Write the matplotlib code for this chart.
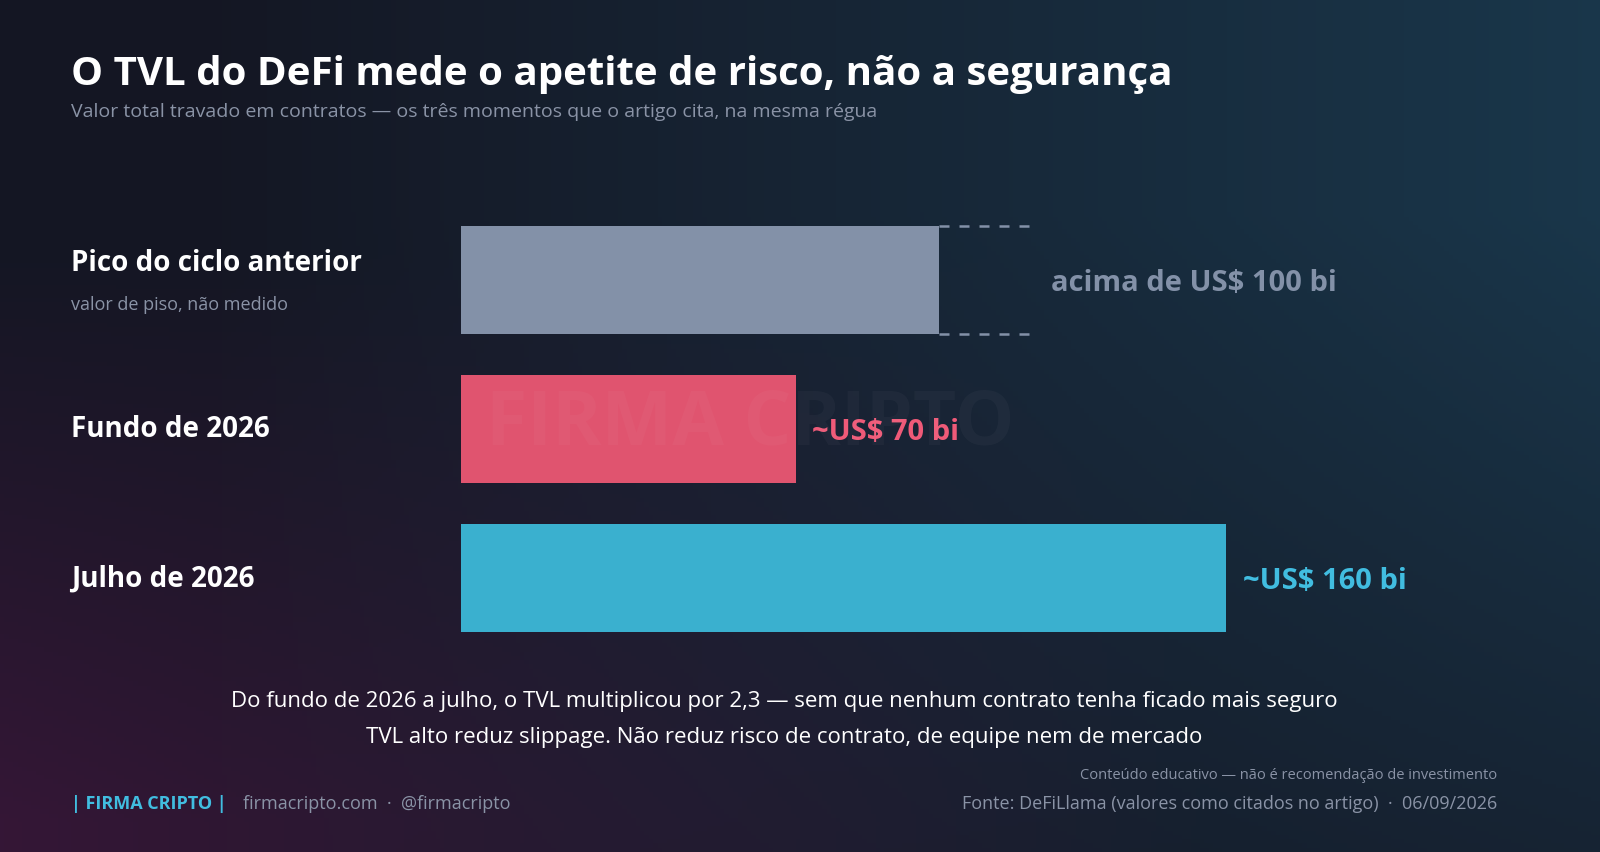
import numpy as np
import matplotlib
matplotlib.use("Agg")
import matplotlib.pyplot as plt

plt.rcParams['font.family'] = ['Open Sans', 'DejaVu Sans']

# data
labels = ["Pico do ciclo anterior", "Fundo de 2026", "Julho de 2026"]
sublabels = ["valor de piso, não medido", "", ""]
values = [100, 70, 160]
value_texts = ["acima de US$ 100 bi", "~US$ 70 bi", "~US$ 160 bi"]
bar_colors = ["#8391a8", "#e0546f", "#3ab0cf"]
text_colors = ["#8391a8", "#ef5a78", "#41bde0"]
floor_extent = 120  # dashed "above" region for the floor value

W, H = 1600, 853
fig = plt.figure(figsize=(W / 100, H / 100), dpi=100)

# background gradient
bg = fig.add_axes([0, 0, 1, 1])
yy, xx = np.mgrid[0:1:200j, 0:1:360j]
base = np.array([0.08, 0.09, 0.14])
teal = np.array([0.10, 0.22, 0.30])
purple = np.array([0.22, 0.09, 0.22])
wt = np.clip(xx * 1.1 - 0.15, 0, 1) * np.clip(1.2 - yy * 0.8, 0, 1)
wp = np.clip((1 - xx) * 1.2 - 0.3, 0, 1) * np.clip(yy * 1.5 - 0.45, 0, 1)
img = base[None, None, :] * (1 - wt[..., None] - wp[..., None]) + teal * wt[..., None] + purple * wp[..., None]
img = np.clip(img, 0, 1)
bg.imshow(img, extent=[0, W, H, 0], aspect="auto")
bg.set_xlim(0, W)
bg.set_ylim(H, 0)
bg.axis("off")

# title
bg.text(71, 74, "O TVL do DeFi mede o apetite de risco, não a segurança", color="white",
        fontsize=29, fontweight="bold", va="center")
bg.text(71, 112, "Valor total travado em contratos — os três momentos que o artigo cita, na mesma régua",
        color="#8a93a6", fontsize=14, va="center")

# bars
x0, x1 = 461, 1226
ytop, ybot = 206.5, 653.5
ax = fig.add_axes([x0 / W, 1 - ybot / H, (x1 - x0) / W, (ybot - ytop) / H])
ax.set_xlim(0, 160)
ax.set_ylim(2.5, -0.5)
ax.axis("off")
ypos = np.arange(len(values))
bh = 108 / 149
ax.barh(ypos, values, height=bh, color=bar_colors, clip_on=False)
# dashed extension for floor bar
for yy_ in (-bh / 2, bh / 2):
    ax.plot([values[0], floor_extent], [yy_, yy_], ls=(0, (4, 4)), color="#8391a8",
            lw=1.8, clip_on=False)

for i, (v, t) in enumerate(zip(values, value_texts)):
    xt = floor_extent if i == 0 else v
    ax.text(xt + 3.5, i + 0.02, t, color=text_colors[i], fontsize=21, fontweight="bold",
            va="center", ha="left")
    if sublabels[i]:
        ax.text(-81.5, i - 0.02, labels[i], color="white", fontsize=20, fontweight="bold",
                va="bottom", ha="left", clip_on=False)
        ax.text(-81.5, i + 0.1, sublabels[i], color="#8a93a6", fontsize=13,
                va="top", ha="left", clip_on=False)
    else:
        ax.text(-81.5, i, labels[i], color="white", fontsize=20, fontweight="bold",
                va="center", ha="left", clip_on=False)

# watermark, faint on top of everything
fig.text(750 / W, 1 - 425 / H, "FIRMA CRIPTO", color="white", alpha=0.03, fontsize=54,
         fontweight="bold", ha="center", va="center", zorder=10)

# notes
bg.text(784, 702, "Do fundo de 2026 a julho, o TVL multiplicou por 2,3 — sem que nenhum contrato tenha ficado mais seguro",
        color="white", fontsize=16, ha="center", va="center")
bg.text(784, 738, "TVL alto reduz slippage. Não reduz risco de contrato, de equipe nem de mercado",
        color="white", fontsize=16, ha="center", va="center")

# footer
bg.text(71, 804, "| FIRMA CRIPTO |", color="#41bde0", fontsize=13, fontweight="bold", va="center")
bg.text(243, 804, "firmacripto.com  ·  @firmacripto", color="#8a93a6", fontsize=13, va="center")
bg.text(1497, 776, "Conteúdo educativo — não é recomendação de investimento", color="#8a93a6",
        fontsize=10.5, ha="right", va="center")
bg.text(1497, 804, "Fonte: DeFiLlama (valores como citados no artigo)  ·  06/09/2026", color="#8a93a6",
        fontsize=13, ha="right", va="center")

fig.savefig("out.png", dpi=100)
